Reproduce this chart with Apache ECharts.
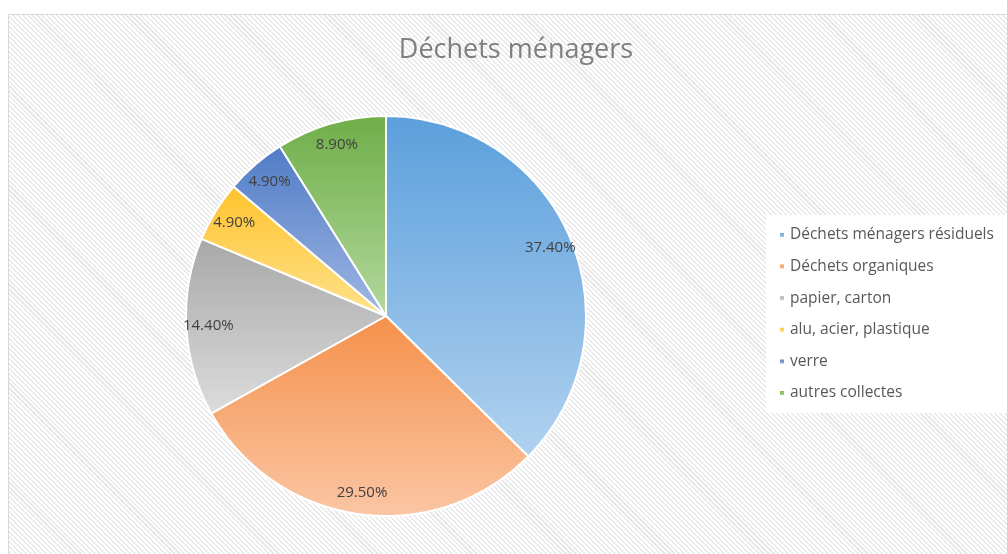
<!DOCTYPE html>
<html style="height: 100%;">
<head>
<meta charset="utf-8">
<title>Déchets ménagers</title>
<script type="text/javascript" src="https://cdn.jsdelivr.net/npm/echarts@6/dist/echarts.min.js"></script>
<style>
  body { margin: 0; height: 100%; background: #fff; overflow: hidden; }
  #frame {
    position: absolute; left: 8px; top: 14px; width: 1020px; height: 560px;
    border: 1px solid #d9d9d9;
    background: repeating-linear-gradient(45deg, #ffffff 0px, #ffffff 2px, #e9e9e9 2px, #e9e9e9 3.5px);
  }
  #container { position: absolute; left: 0; top: 0; width: 1007px; height: 554px; }
</style>
</head>
<body>
<div id="frame"></div>
<div id="container"></div>
<script type="text/javascript">
var categories = ['Déchets ménagers résiduels', 'Déchets organiques', 'papier, carton', 'alu, acier, plastique', 'verre', 'autres collectes'];
var values = [37.4, 29.5, 14.4, 4.9, 4.9, 8.9];
// couleur haut / bas du dégradé
var topColors = ['#5b9fdc', '#f5904a', '#a8a8a8', '#fec32c', '#4f7bc6', '#6fae48'];
var bottomColors = ['#b1d2ef', '#fac6a4', '#dcdcdc', '#ffe28e', '#a1b8e3', '#b3d89d'];

var dom = document.getElementById('container');
var myChart = echarts.init(dom);

var pieData = categories.map(function (name, i) {
    return {
        name: name,
        value: values[i],
        itemStyle: {
            color: new echarts.graphic.LinearGradient(0, 0, 0, 1, [
                { offset: 0, color: topColors[i] },
                { offset: 1, color: bottomColors[i] }
            ])
        }
    };
});
var labelData = categories.map(function (name, i) {
    return { name: name, value: values[i] };
});

var option = {
    animation: false,
    title: {
        text: 'Déchets ménagers',
        left: 511,
        top: 32,
        textAlign: 'center',
        textStyle: { fontFamily: 'Open Sans', fontSize: 27, fontWeight: 'normal', color: '#7f7f7f' }
    },
    legend: {
        orient: 'vertical',
        left: 766,
        top: 215,
        padding: [12, 20, 12, 12],
        backgroundColor: '#ffffff',
        icon: 'rect',
        itemWidth: 6,
        itemHeight: 6,
        itemGap: 15.6,
        data: categories,
        textStyle: { fontFamily: 'Open Sans', fontSize: 15.5, color: '#595959' }
    },
    series: [
        {
            type: 'pie',
            center: [386, 316],
            radius: 200,
            startAngle: 90,
            data: pieData,
            itemStyle: { borderColor: '#ffffff', borderWidth: 2 },
            label: { show: false },
            labelLine: { show: false },
            emphasis: { disabled: true }
        },
        {
            type: 'pie',
            center: [386, 316],
            radius: [150, 200],
            startAngle: 90,
            silent: true,
            data: labelData,
            itemStyle: { color: 'rgba(0,0,0,0)' },
            label: {
                show: true,
                position: 'inside',
                formatter: function (p) { return p.value.toFixed(2) + '%'; },
                fontFamily: 'Open Sans',
                fontSize: 15,
                color: '#404040'
            },
            labelLine: { show: false },
            emphasis: { disabled: true }
        }
    ]
};
myChart.setOption(option);
</script>
</body>
</html>
